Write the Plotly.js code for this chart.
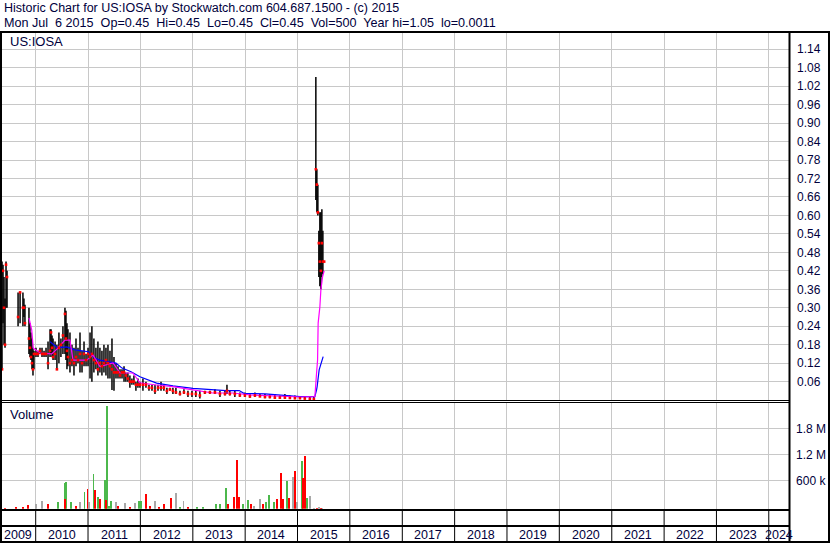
<!DOCTYPE html>
<html><head><meta charset="utf-8">
<script src="https://cdn.plot.ly/plotly-3.0.1.min.js"></script>
<style>html,body{margin:0;padding:0;background:#fff;}#chart{width:830px;height:543px;}</style>
</head><body><div id="chart"></div>
<script>
// ---------------- DATA ----------------
const headerLine1 = 'Historic Chart for US:IOSA by Stockwatch.com 604.687.1500 - (c) 2015';
const headerLine2 = 'Mon Jul  6 2015  Op=0.45  Hi=0.45  Lo=0.45  Cl=0.45  Vol=500  Year hi=1.05  lo=0.0011';
const symbolLabel = 'US:IOSA';
const volumeLabel = 'Volume';

const barDates = [
'2009-05-11','2009-05-18','2009-05-25','2009-06-01','2009-06-08','2009-06-15',
'2009-08-31','2009-09-14','2009-10-04','2009-10-11','2009-10-18',
'2009-11-15','2009-11-22','2009-11-29','2009-12-06','2009-12-13','2009-12-20',
'2010-01-03','2010-01-17','2010-01-31','2010-02-14','2010-02-28','2010-03-14','2010-03-28',
'2010-04-11','2010-04-18','2010-04-25','2010-05-02','2010-05-16','2010-05-29','2010-06-12','2010-06-26',
'2010-07-10','2010-07-24','2010-07-31','2010-08-07','2010-08-14','2010-08-28','2010-09-11','2010-09-25',
'2010-10-09','2010-10-23','2010-11-06','2010-11-20','2010-12-04','2010-12-18',
'2011-01-01','2011-01-15','2011-01-28','2011-02-11','2011-02-25','2011-03-11','2011-03-25','2011-04-08','2011-04-22',
'2011-05-06','2011-05-20','2011-06-03','2011-06-17','2011-07-01','2011-07-15','2011-07-29','2011-08-12','2011-08-26',
'2011-09-09','2011-09-22','2011-10-06','2011-10-20','2011-11-03','2011-11-17','2011-12-01','2011-12-15','2011-12-29',
'2012-01-19','2012-02-09','2012-03-01','2012-03-22','2012-04-12','2012-05-03','2012-05-24','2012-06-13','2012-07-04',
'2012-07-25','2012-08-15','2012-09-05','2012-10-03','2012-10-31','2012-11-28','2012-12-26',
'2013-01-22','2013-02-19','2013-03-26','2013-04-30','2013-06-04','2013-07-09','2013-08-13','2013-08-27','2013-09-16',
'2013-10-21','2013-11-25','2013-12-30',
'2014-02-03','2014-03-10','2014-04-14','2014-05-19','2014-06-22','2014-07-27','2014-08-31','2014-10-05','2014-11-09','2014-12-14',
'2015-01-18','2015-02-21','2015-03-28','2015-04-25','2015-05-09','2015-05-16','2015-05-23','2015-05-30','2015-06-06',
'2015-06-13','2015-06-20','2015-06-27','2015-07-06'];
const barHigh = [
0.45,0.44,0.40,0.33,0.45,0.42, 0.35,0.35,0.35,0.33,0.31, 0.30,0.25,0.22,0.20,0.17,0.16,
0.17,0.16,0.17,0.17,0.16,0.17,0.19, 0.23,0.23,0.21,0.20,0.19,0.18,0.22,0.20,
0.24,0.30,0.29,0.25,0.23,0.22,0.18,0.17, 0.20,0.17,0.22,0.16,0.19,0.15,
0.17,0.22,0.24,0.20,0.17,0.19,0.17,0.16,0.18, 0.17,0.18,0.16,0.20,0.14,0.12,0.11,0.10,0.10,
0.11,0.09,0.09,0.08,0.07,0.08,0.06,0.07,0.06,
0.07,0.06,0.05,0.05,0.05,0.05,0.06,0.05,0.04, 0.04,0.04,0.04,0.03,0.035,0.03,0.03,
0.03,0.03,0.03,0.03,0.035,0.03,0.03,0.05,0.03, 0.03,0.025,0.025,
0.02,0.025,0.02,0.02,0.018,0.02,0.015,0.02,0.015,0.015,
0.012,0.012,0.01,0.01,1.05,0.75,0.70,0.55,0.61, 0.61,0.62,0.55,0.45];
const barLow = [
0.10,0.25,0.18,0.17,0.30,0.30, 0.24,0.25,0.24,0.27,0.24, 0.15,0.14,0.13,0.10,0.08,0.10,
0.14,0.14,0.15,0.14,0.14,0.14,0.10, 0.14,0.15,0.14,0.13,0.13,0.10,0.12,0.14,
0.15,0.15,0.13,0.10,0.11,0.09,0.11,0.08, 0.11,0.12,0.09,0.09,0.11,0.11,
0.11,0.07,0.06,0.09,0.10,0.08,0.09,0.08,0.09, 0.08,0.07,0.07,0.033,0.03,0.07,0.07,0.07,0.07,
0.06,0.06,0.06,0.04,0.05,0.05,0.03,0.04,0.04,
0.03,0.04,0.03,0.03,0.02,0.03,0.03,0.03,0.02, 0.03,0.02,0.02,0.015,0.02,0.01,0.01,
0.01,0.005,0.02,0.02,0.02,0.01,0.015,0.02,0.015, 0.01,0.01,0.01,
0.008,0.01,0.01,0.006,0.006,0.005,0.005,0.005,0.005,0.004,
0.004,0.003,0.002,0.0011,0.65,0.61,0.60,0.40,0.37, 0.36,0.40,0.41,0.45];
const barClose = [
0.10,0.42,0.30,0.18,0.44,0.40, 0.27,0.35,0.30,0.30,0.25, 0.20,0.17,0.14,0.12,0.10,0.15,
0.15,0.15,0.16,0.15,0.15,0.15,0.12, 0.16,0.22,0.17,0.14,0.15,0.10,0.17,0.18,
0.21,0.28,0.20,0.16,0.14,0.12,0.13,0.12, 0.14,0.13,0.15,0.12,0.15,0.13,
0.15,0.14,0.15,0.13,0.12,0.10,0.12,0.11,0.12, 0.13,0.12,0.11,0.10,0.09,0.09,0.09,0.08,0.09,
0.09,0.08,0.07,0.06,0.06,0.06,0.05,0.05,0.05,
0.05,0.05,0.04,0.04,0.03,0.04,0.04,0.04,0.03, 0.035,0.03,0.025,0.02,0.025,0.02,0.02,
0.02,0.015,0.025,0.025,0.025,0.02,0.02,0.03,0.02, 0.02,0.015,0.015,
0.012,0.015,0.012,0.01,0.01,0.008,0.008,0.008,0.007,0.006,
0.006,0.005,0.004,0.003,0.75,0.70,0.61,0.51,0.45, 0.42,0.51,0.45,0.45];

const maShortDates = ['2009-11-15','2009-12-04','2009-12-15','2010-01-31','2010-04-23','2010-06-05','2010-07-24','2010-08-28',
'2010-09-18','2010-12-23','2011-02-04','2011-03-25','2011-06-24','2011-08-12','2011-11-10','2011-12-29','2012-04-23',
'2012-08-15','2013-01-02','2013-05-21','2013-10-07','2014-02-03','2015-01-18','2015-05-02','2015-05-14','2015-05-21',
'2015-05-25','2015-06-06','2015-06-13','2015-06-25','2015-07-06'];
const maShortValues = [0.267,0.228,0.169,0.153,0.150,0.169,0.195,0.195,0.130,0.130,0.147,0.109,0.121,0.088,0.088,0.056,0.049,
0.044,0.033,0.023,0.023,0.017,0.010,0.011,0.088,0.130,0.250,0.303,0.358,0.401,0.42];

const maLongDates = ['2010-04-11','2010-06-01','2010-08-05','2010-10-02','2011-01-05','2011-02-18','2011-03-25','2011-05-30',
'2011-07-15','2011-08-26','2011-10-28','2011-12-29','2012-02-10','2012-04-23','2012-08-15','2013-01-02','2013-08-20',
'2013-11-20','2013-12-23','2014-05-20','2015-01-18','2015-05-02','2015-05-14','2015-05-18','2015-06-01','2015-06-18','2015-06-29'];
const maLongValues = [0.190,0.170,0.173,0.163,0.157,0.137,0.130,0.125,0.120,0.104,0.092,0.076,0.068,0.055,0.046,0.038,0.031,
0.031,0.022,0.020,0.011,0.011,0.033,0.044,0.098,0.125,0.141];

const volUpDates = ['2010-06-05','2010-07-21','2010-07-31','2010-09-04','2010-12-07','2011-02-08','2011-03-11','2011-04-29',
'2011-05-13','2011-05-27','2011-06-10','2011-12-22','2012-01-05','2012-06-13','2012-10-03','2013-01-29','2013-03-12',
'2013-06-11','2013-07-09','2013-08-20','2013-12-16','2014-01-20','2014-05-26','2014-06-16','2014-07-21','2014-09-21',
'2014-10-19','2015-02-01','2015-03-07'];
const volUpValues = [160000,590000,620000,150000,380000,800000,270000,670000,2380000,60000,170000,170000,170000,40000,30000,
50000,50000,100000,110000,484000,100000,205000,150000,308000,150000,100000,650000,1106000,250000];

const volDownDates = ['2009-05-07','2009-06-01','2009-08-16','2009-10-04','2009-11-08','2010-03-28','2010-07-24','2010-10-09',
'2010-12-28','2011-02-18','2011-03-25','2011-05-06','2011-07-29','2011-10-20','2012-02-09','2012-03-08','2012-05-10',
'2012-06-13','2012-08-01','2012-11-28','2013-09-03','2013-10-14','2013-11-05','2013-11-18','2014-02-10','2014-05-05',
'2014-08-11','2014-09-07','2014-09-21','2014-11-02','2014-12-14','2015-02-08','2015-02-21','2015-05-16','2015-06-13'];
const volDownValues = [130000,20000,40000,40000,80000,120000,217000,60000,450000,440000,220000,210000,60000,50000,330000,60000,
50000,110000,255000,50000,110000,270000,1130000,270000,100000,100000,230000,817000,230000,250000,878000,711000,1220000,20000,25000];

const volFlatDates = ['2010-01-03','2010-02-14','2010-11-06','2011-01-08','2011-07-15','2011-09-15','2011-11-24','2012-04-12',
'2012-09-05','2012-10-27','2014-03-03','2014-04-14','2014-11-30','2014-12-28','2015-03-28','2015-04-25','2015-05-30','2015-06-20'];
const volFlatValues = [120000,180000,150000,160000,160000,130000,130000,170000,360000,170000,60000,220000,726000,150000,285000,
25000,30000,25000];

const priceTicks = [0.06,0.12,0.18,0.24,0.30,0.36,0.42,0.48,0.54,0.60,0.66,0.72,0.78,0.84,0.90,0.96,1.02,1.08,1.14];
const volTicks = [600000,1200000,1800000];
const volTickText = ['600 k','1.2 M','1.8 M'];
const yearLabels = ['2009','2010','2011','2012','2013','2014','2015','2016','2017','2018','2019','2020','2021','2022','2023','2024'];

// ---------------- LAYOUT ----------------
const W = 830, H = 543;
const px = v => v / W, py = v => 1 - v / H;
const xRange = ['2009-04-27', '2024-05-19'];
const txt = '#00003c', grid = '#c8c8c8', black = '#000';
const FONT = '"Liberation Sans", Arial, sans-serif';

const hlX = [], hlY = [];
barDates.forEach((d, i) => { hlX.push(d, d, null); hlY.push(barLow[i], barHigh[i], null); });

const barW = 10 * 86400000;
const traces = [
  {type:'scatter', mode:'lines', x:hlX, y:hlY, line:{color:black, width:1.5}, xaxis:'x', yaxis:'y', hoverinfo:'skip'},
  {type:'scatter', mode:'lines', x:maLongDates, y:maLongValues, line:{color:'#0000ff', width:1.2}, xaxis:'x', yaxis:'y'},
  {type:'scatter', mode:'lines', x:maShortDates, y:maShortValues, line:{color:'#ff00ff', width:1.2}, xaxis:'x', yaxis:'y'},
  {type:'scatter', mode:'markers', x:barDates, y:barClose, marker:{symbol:'square', size:2.6, color:'#ff0000', line:{width:0}}, xaxis:'x', yaxis:'y'},
  {type:'bar', x:volUpDates, y:volUpValues, base:-55000, width:barW, marker:{color:'#4cb84c', line:{width:0}}, xaxis:'x2', yaxis:'y2'},
  {type:'bar', x:volFlatDates, y:volFlatValues, base:-55000, width:barW, marker:{color:'#a8a8a8', line:{width:0}}, xaxis:'x2', yaxis:'y2'},
  {type:'bar', x:volDownDates, y:volDownValues, base:-55000, width:barW, marker:{color:'#ff0000', line:{width:0}}, xaxis:'x2', yaxis:'y2'}
];

const xCommon = {type:'date', range:xRange, domain:[0, px(788.7)], showticklabels:false, ticks:'',
  tick0:'2010-01-01', dtick:'M12', showgrid:true, gridcolor:grid, gridwidth:1, zeroline:false, showline:false, fixedrange:true};

const shapes = [];
const L = (x0, y0, x1, y1, w) => shapes.push({type:'line', xref:'paper', yref:'paper', x0, y0, x1, y1, line:{color:black, width:w}});
L(0, py(32), 1, py(32), 2);
L(px(1), py(31), px(1), 0, 2);
L(px(829), py(31), px(829), 0, 2);
L(px(789.5), py(31), px(789.5), py(542), 2);
L(0, py(400.5), px(789), py(400.5), 1);
L(0, py(402.5), px(789), py(402.5), 1);
L(0, py(510), px(789), py(510), 2);
L(0, py(526), px(789), py(526), 2);
L(0, py(542), 1, py(542), 2);

const r0 = new Date(xRange[0] + 'T00:00:00Z').getTime(), r1 = new Date(xRange[1] + 'T00:00:00Z').getTime();
const annotations = [];
yearLabels.forEach(y => {
  const s = new Date(y + '-01-01T00:00:00Z').getTime();
  const e = new Date((+y + 1) + '-01-01T00:00:00Z').getTime();
  if (s > r0 && s < r1) shapes.push({type:'line', xref:'x2', yref:'paper', x0:s, x1:s, y0:py(510), y1:py(542), line:{color:black, width:1}});
  const mid = (Math.max(s, r0) + Math.min(e, r1)) / 2;
  annotations.push({xref:'x2', yref:'paper', x:mid, y:py(535), text:y, showarrow:false, xanchor:'center', yanchor:'middle', font:{size:12.5, color:txt, family:FONT}});
});
const sp = s => s.replace(/  /g, '\u00a0 ');
annotations.push({xref:'paper', yref:'paper', x:px(1.5), y:py(8), text:sp(headerLine1), showarrow:false, xanchor:'left', yanchor:'middle', font:{size:12.5, color:txt, family:FONT}});
annotations.push({xref:'paper', yref:'paper', x:px(1.5), y:py(22.8), text:sp(headerLine2), showarrow:false, xanchor:'left', yanchor:'middle', font:{size:12.6, color:txt, family:FONT}});
annotations.push({xref:'paper', yref:'paper', x:px(8), y:py(41.5), text:symbolLabel, showarrow:false, xanchor:'left', yanchor:'middle', font:{size:13, color:txt, family:FONT}});
annotations.push({xref:'paper', yref:'paper', x:px(8), y:py(414), text:volumeLabel, showarrow:false, xanchor:'left', yanchor:'middle', font:{size:13, color:txt, family:FONT}});

const layout = {
  width:W, height:H, margin:{l:0, r:0, t:0, b:0}, paper_bgcolor:'#fff', plot_bgcolor:'#fff', showlegend:false,
  font:{family:FONT, color:txt, size:12}, barmode:'overlay', bargap:0,
  xaxis:Object.assign({}, xCommon, {anchor:'y'}),
  xaxis2:Object.assign({}, xCommon, {anchor:'y2'}),
  yaxis:{domain:[py(400.1), py(32)], range:[0, 1.196], side:'right', anchor:'x', tickvals:priceTicks,
    ticktext:priceTicks.map(v => v.toFixed(2)), showgrid:true, gridcolor:grid, gridwidth:1, zeroline:false, showline:false,
    ticks:'outside', ticklen:5, tickcolor:'rgba(0,0,0,0)', tickfont:{size:12, color:txt}, fixedrange:true},
  yaxis2:{domain:[py(508.7), py(402)], range:[-55000, 2407000], side:'right', anchor:'x2', tickvals:volTicks, ticktext:volTickText,
    showgrid:true, gridcolor:grid, gridwidth:1, zeroline:false, showline:false,
    ticks:'outside', ticklen:4, tickcolor:'rgba(0,0,0,0)', tickfont:{size:12, color:txt}, fixedrange:true},
  shapes, annotations
};
Plotly.newPlot('chart', traces, layout, {staticPlot:true, displayModeBar:false});
</script></body></html>
